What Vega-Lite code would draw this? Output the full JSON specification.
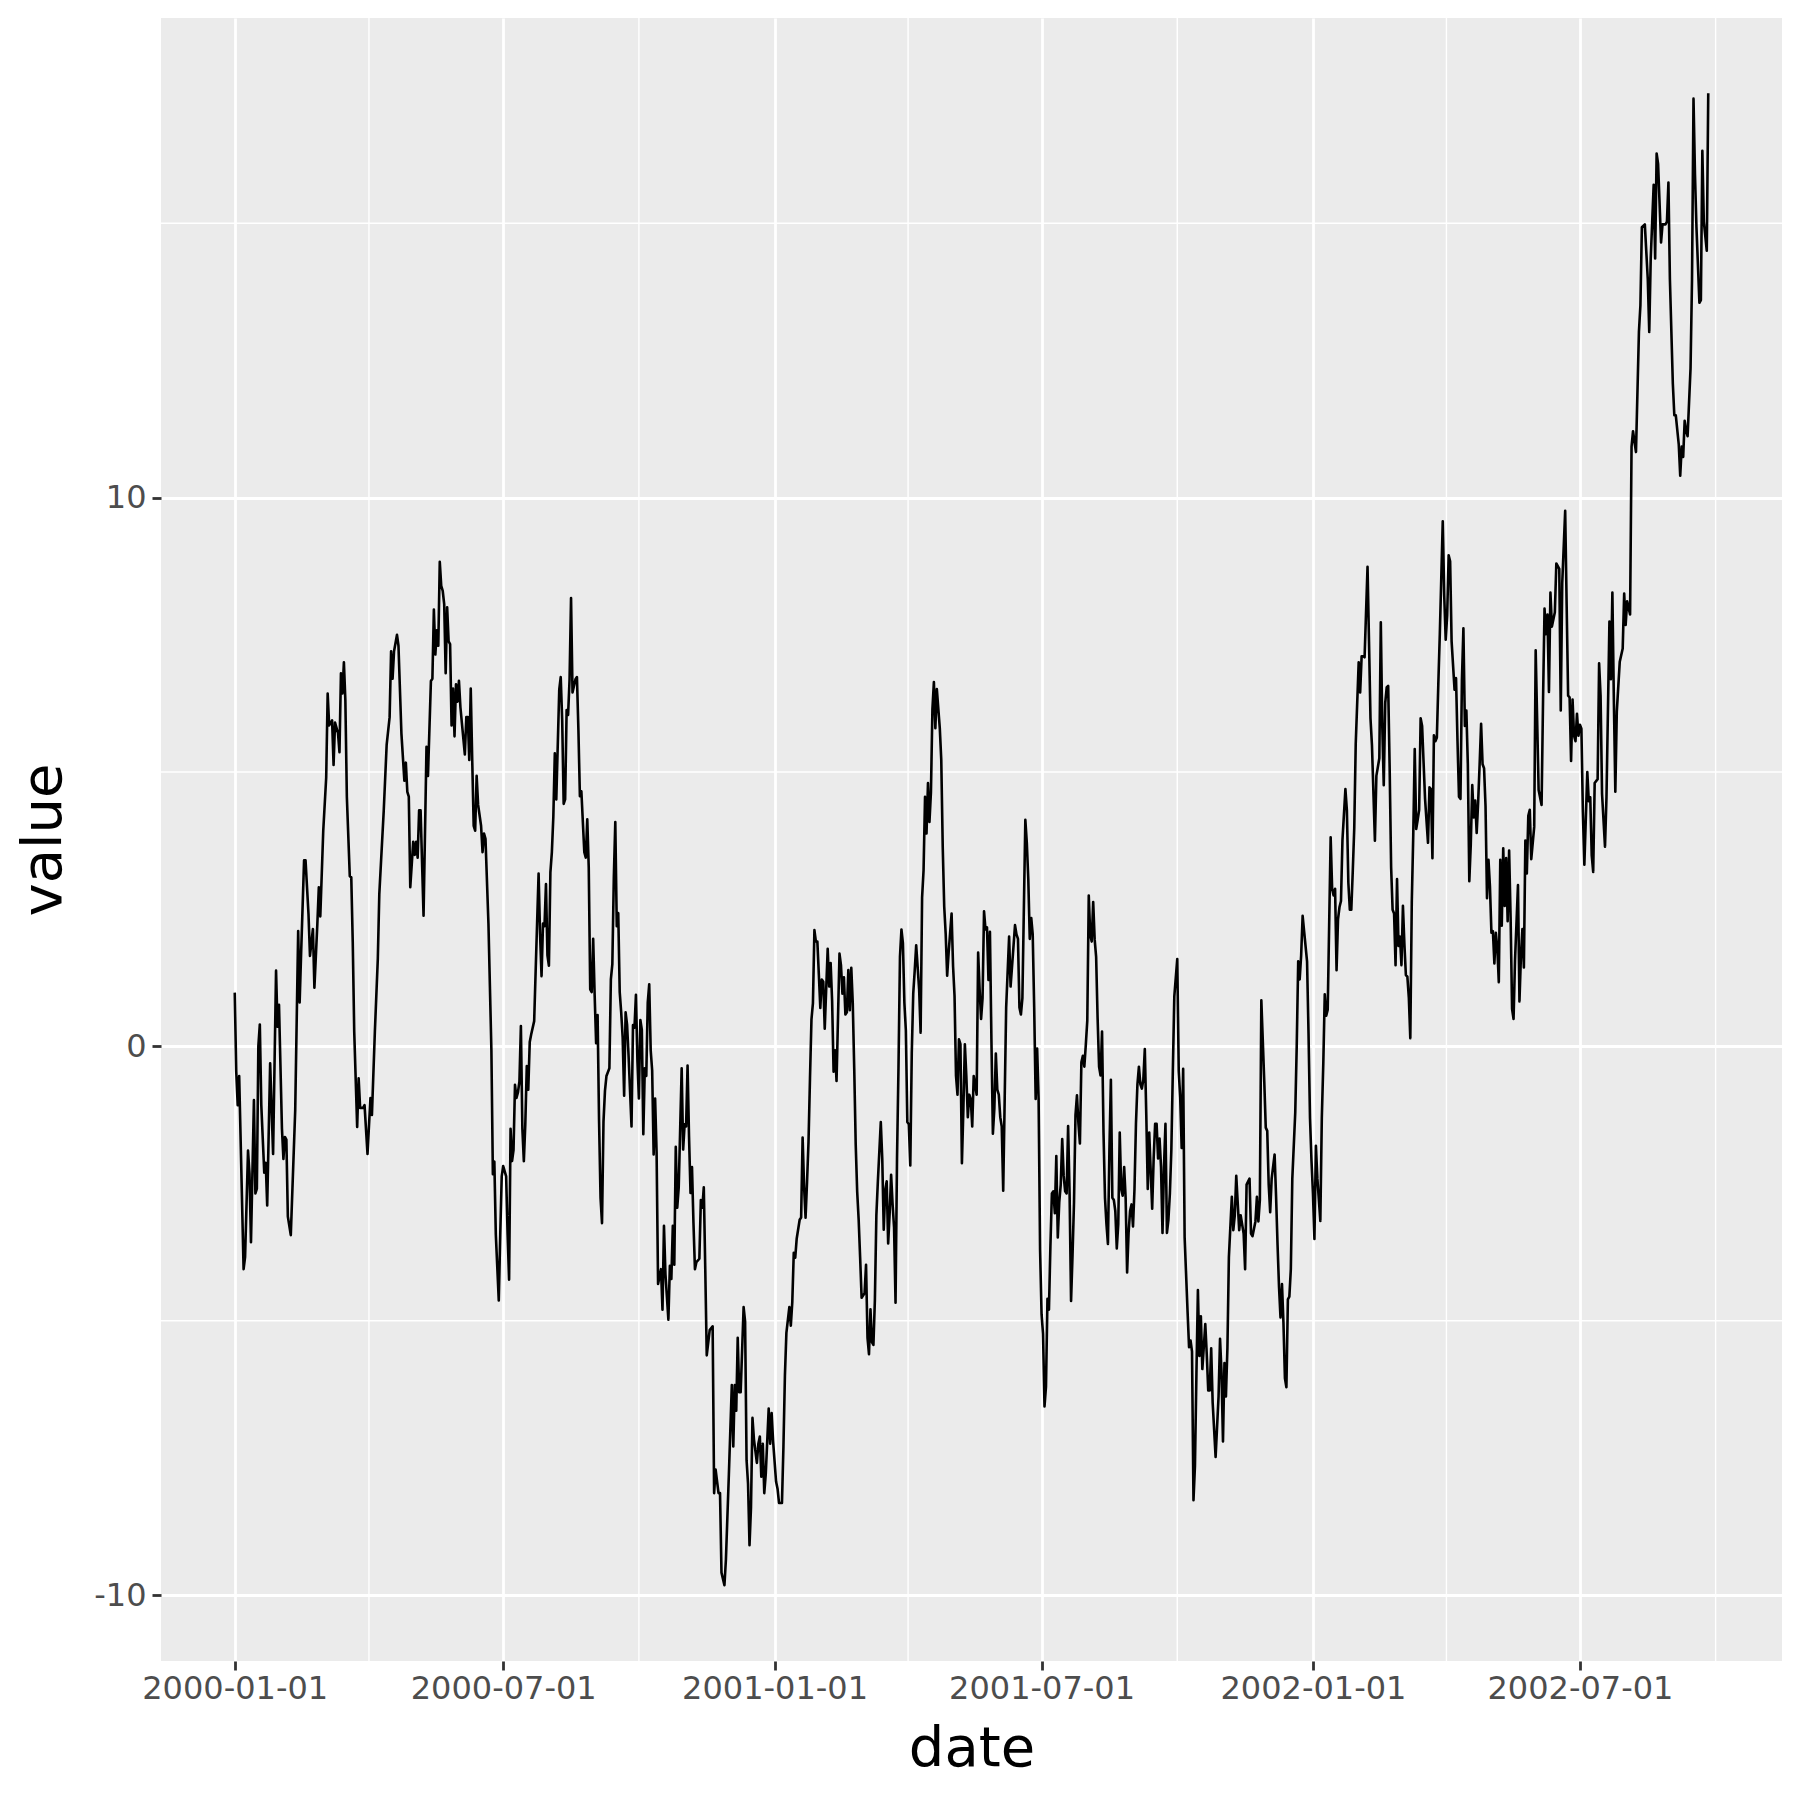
{
"$schema": "https://vega.github.io/schema/vega-lite/v6.json",
"width": 1621,
"height": 1643,
"autosize": {"type": "none"},
"padding": {"left": 161, "top": 18, "right": 18, "bottom": 139},
"background": "white",
"config": {
  "view": {"fill": "#EBEBEB", "stroke": null},
  "font": "DejaVu Sans",
  "axis": {"grid": true, "gridColor": "white", "gridWidth": 2.8, "domain": false, "tickColor": "#333333", "tickWidth": 2.8, "tickSize": 9, "labelFont": "DejaVu Sans", "labelFontSize": 32, "labelColor": "#4D4D4D", "labelPadding": 4, "labelLimit": 0, "titleFont": "DejaVu Sans", "titleFontSize": 56, "titleFontWeight": "normal", "titleColor": "black", "labelFlush": false, "labelOverlap": false}
},
"datasets": {
  "xminor": [{"date": "2000-04-01"}, {"date": "2000-10-01"}, {"date": "2001-04-01T12:00:00Z"}, {"date": "2001-10-01"}, {"date": "2002-04-01T12:00:00Z"}, {"date": "2002-10-01"}],
  "yminor": [{"value": -5}, {"value": 5}, {"value": 15}],
  "series": [
{"date":"2000-01-01","value":0.98},{"date":"2000-01-02","value":-0.45},{"date":"2000-01-03","value":-1.07},{"date":"2000-01-04","value":-0.54},{"date":"2000-01-07","value":-4.06},{"date":"2000-01-08","value":-3.84},{"date":"2000-01-10","value":-1.9},{"date":"2000-01-11","value":-2.32},{"date":"2000-01-12","value":-3.57},{"date":"2000-01-14","value":-0.98},{"date":"2000-01-15","value":-2.68},{"date":"2000-01-16","value":-2.59},{"date":"2000-01-17","value":0.0},{"date":"2000-01-18","value":0.4},{"date":"2000-01-19","value":-1.07},{"date":"2000-01-21","value":-2.3},{"date":"2000-01-22","value":-2.12},{"date":"2000-01-23","value":-2.9},{"date":"2000-01-25","value":-0.31},{"date":"2000-01-27","value":-1.96},{"date":"2000-01-29","value":1.38},{"date":"2000-01-30","value":0.36},{"date":"2000-01-31","value":0.76},
{"date":"2000-02-02","value":-1.5},{"date":"2000-02-03","value":-2.05},{"date":"2000-02-04","value":-1.65},{"date":"2000-02-05","value":-1.7},{"date":"2000-02-06","value":-3.1},{"date":"2000-02-08","value":-3.44},{"date":"2000-02-11","value":-1.16},{"date":"2000-02-13","value":2.1},{"date":"2000-02-14","value":0.8},{"date":"2000-02-15","value":1.7},{"date":"2000-02-17","value":3.39},{"date":"2000-02-18","value":3.39},{"date":"2000-02-20","value":2.41},{"date":"2000-02-21","value":1.65},{"date":"2000-02-23","value":2.14},{"date":"2000-02-24","value":1.07},{"date":"2000-02-26","value":2.23},{"date":"2000-02-27","value":2.9},{"date":"2000-02-28","value":2.37},
{"date":"2000-03-01","value":3.93},{"date":"2000-03-03","value":4.9},{"date":"2000-03-04","value":6.43},{"date":"2000-03-05","value":5.85},{"date":"2000-03-07","value":5.94},{"date":"2000-03-08","value":5.13},{"date":"2000-03-09","value":5.9},{"date":"2000-03-11","value":5.71},{"date":"2000-03-12","value":5.36},{"date":"2000-03-13","value":6.8},{"date":"2000-03-14","value":6.43},{"date":"2000-03-15","value":7.0},{"date":"2000-03-16","value":6.3},{"date":"2000-03-17","value":4.55},{"date":"2000-03-19","value":3.1},{"date":"2000-03-20","value":3.08},{"date":"2000-03-21","value":1.9},{"date":"2000-03-22","value":0.27},{"date":"2000-03-24","value":-1.47},{"date":"2000-03-25","value":-0.58},{"date":"2000-03-26","value":-1.12},{"date":"2000-03-28","value":-1.12},{"date":"2000-03-29","value":-1.07},{"date":"2000-03-31","value":-1.96},
{"date":"2000-04-02","value":-0.94},{"date":"2000-04-03","value":-1.25},{"date":"2000-04-05","value":0.27},{"date":"2000-04-07","value":1.6},{"date":"2000-04-08","value":2.77},{"date":"2000-04-11","value":4.29},{"date":"2000-04-13","value":5.5},{"date":"2000-04-15","value":6.0},{"date":"2000-04-16","value":7.2},{"date":"2000-04-17","value":6.7},{"date":"2000-04-18","value":7.2},{"date":"2000-04-20","value":7.5},{"date":"2000-04-21","value":7.3},{"date":"2000-04-23","value":5.7},{"date":"2000-04-25","value":4.84},{"date":"2000-04-26","value":5.17},{"date":"2000-04-27","value":4.64},{"date":"2000-04-28","value":4.55},{"date":"2000-04-29","value":2.9},
{"date":"2000-05-01","value":3.73},{"date":"2000-05-02","value":3.49},{"date":"2000-05-03","value":3.73},{"date":"2000-05-04","value":3.44},{"date":"2000-05-05","value":4.3},{"date":"2000-05-06","value":4.3},{"date":"2000-05-08","value":2.38},{"date":"2000-05-10","value":5.46},{"date":"2000-05-11","value":4.93},{"date":"2000-05-13","value":6.66},{"date":"2000-05-14","value":6.7},{"date":"2000-05-15","value":7.96},{"date":"2000-05-16","value":7.14},{"date":"2000-05-17","value":7.58},{"date":"2000-05-18","value":7.3},{"date":"2000-05-19","value":8.83},{"date":"2000-05-20","value":8.39},{"date":"2000-05-21","value":8.3},{"date":"2000-05-22","value":8.06},{"date":"2000-05-23","value":6.8},{"date":"2000-05-24","value":8.0},{"date":"2000-05-25","value":7.38},{"date":"2000-05-26","value":7.33},{"date":"2000-05-27","value":5.85},{"date":"2000-05-28","value":6.52},{"date":"2000-05-29","value":5.65},{"date":"2000-05-30","value":6.6},{"date":"2000-05-31","value":6.28},
{"date":"2000-06-01","value":6.66},{"date":"2000-06-02","value":6.18},{"date":"2000-06-03","value":5.89},{"date":"2000-06-05","value":5.32},{"date":"2000-06-06","value":6.0},{"date":"2000-06-07","value":6.0},{"date":"2000-06-08","value":5.22},{"date":"2000-06-09","value":6.52},{"date":"2000-06-10","value":5.22},{"date":"2000-06-11","value":4.02},{"date":"2000-06-12","value":3.93},{"date":"2000-06-13","value":4.93},{"date":"2000-06-14","value":4.4},{"date":"2000-06-16","value":4.02},{"date":"2000-06-17","value":3.54},{"date":"2000-06-18","value":3.88},{"date":"2000-06-19","value":3.78},{"date":"2000-06-21","value":2.24},{"date":"2000-06-23","value":-0.07},{"date":"2000-06-24","value":-2.33},{"date":"2000-06-25","value":-2.1},{"date":"2000-06-26","value":-3.43},{"date":"2000-06-28","value":-4.63},{"date":"2000-06-29","value":-3.43},{"date":"2000-06-30","value":-2.37},
{"date":"2000-07-01","value":-2.18},{"date":"2000-07-03","value":-2.37},{"date":"2000-07-04","value":-3.43},{"date":"2000-07-05","value":-4.25},{"date":"2000-07-06","value":-1.5},{"date":"2000-07-07","value":-2.09},{"date":"2000-07-08","value":-1.89},{"date":"2000-07-09","value":-0.7},{"date":"2000-07-10","value":-0.94},{"date":"2000-07-11","value":-0.84},{"date":"2000-07-12","value":-0.64},{"date":"2000-07-13","value":0.37},{"date":"2000-07-14","value":-1.5},{"date":"2000-07-15","value":-2.09},{"date":"2000-07-16","value":-1.41},{"date":"2000-07-17","value":-0.36},{"date":"2000-07-18","value":-0.79},{"date":"2000-07-19","value":0.08},{"date":"2000-07-20","value":0.22},{"date":"2000-07-22","value":0.46},{"date":"2000-07-23","value":1.37},{"date":"2000-07-25","value":3.15},{"date":"2000-07-26","value":2.05},{"date":"2000-07-27","value":1.28},{"date":"2000-07-28","value":2.24},{"date":"2000-07-29","value":2.19},{"date":"2000-07-30","value":2.96},{"date":"2000-07-31","value":1.66},
{"date":"2000-08-01","value":1.47},{"date":"2000-08-02","value":3.17},{"date":"2000-08-03","value":3.54},{"date":"2000-08-04","value":4.19},{"date":"2000-08-05","value":5.34},{"date":"2000-08-06","value":4.5},{"date":"2000-08-08","value":6.5},{"date":"2000-08-09","value":6.73},{"date":"2000-08-10","value":5.94},{"date":"2000-08-11","value":4.42},{"date":"2000-08-12","value":4.5},{"date":"2000-08-13","value":6.13},{"date":"2000-08-14","value":6.04},{"date":"2000-08-15","value":6.69},{"date":"2000-08-16","value":8.17},{"date":"2000-08-17","value":6.45},{"date":"2000-08-19","value":6.69},{"date":"2000-08-20","value":6.73},{"date":"2000-08-21","value":5.76},{"date":"2000-08-22","value":4.56},{"date":"2000-08-23","value":4.65},{"date":"2000-08-25","value":3.54},{"date":"2000-08-26","value":3.44},{"date":"2000-08-27","value":4.14},{"date":"2000-08-28","value":3.26},{"date":"2000-08-29","value":1.04},{"date":"2000-08-30","value":0.99},{"date":"2000-08-31","value":1.96},
{"date":"2000-09-01","value":0.94},{"date":"2000-09-02","value":0.06},{"date":"2000-09-03","value":0.57},{"date":"2000-09-04","value":-1.37},{"date":"2000-09-05","value":-2.76},{"date":"2000-09-06","value":-3.22},{"date":"2000-09-07","value":-1.37},{"date":"2000-09-08","value":-0.81},{"date":"2000-09-09","value":-0.54},{"date":"2000-09-11","value":-0.4},{"date":"2000-09-12","value":1.22},{"date":"2000-09-13","value":1.5},{"date":"2000-09-14","value":3.07},{"date":"2000-09-15","value":4.09},{"date":"2000-09-16","value":2.19},{"date":"2000-09-17","value":2.43},{"date":"2000-09-18","value":0.99},{"date":"2000-09-19","value":0.62},{"date":"2000-09-20","value":0.16},{"date":"2000-09-21","value":-0.9},{"date":"2000-09-22","value":0.62},{"date":"2000-09-23","value":0.39},{"date":"2000-09-24","value":-0.17},{"date":"2000-09-26","value":-1.46},{"date":"2000-09-27","value":0.39},{"date":"2000-09-28","value":0.34},{"date":"2000-09-29","value":0.94},{"date":"2000-09-30","value":-0.26},
{"date":"2000-10-01","value":-0.95},{"date":"2000-10-02","value":0.48},{"date":"2000-10-03","value":0.3},{"date":"2000-10-04","value":-1.6},{"date":"2000-10-05","value":-0.4},{"date":"2000-10-06","value":-0.54},{"date":"2000-10-07","value":0.8},{"date":"2000-10-08","value":1.13},{"date":"2000-10-09","value":-0.07},{"date":"2000-10-10","value":-0.44},{"date":"2000-10-11","value":-1.97},{"date":"2000-10-12","value":-0.95},{"date":"2000-10-13","value":-1.93},{"date":"2000-10-14","value":-4.33},{"date":"2000-10-16","value":-4.06},{"date":"2000-10-17","value":-4.8},{"date":"2000-10-18","value":-3.27},{"date":"2000-10-19","value":-4.15},{"date":"2000-10-21","value":-4.98},{"date":"2000-10-22","value":-4.0},{"date":"2000-10-23","value":-4.24},{"date":"2000-10-24","value":-3.27},{"date":"2000-10-25","value":-3.98},{"date":"2000-10-26","value":-1.83},{"date":"2000-10-27","value":-2.94},{"date":"2000-10-28","value":-2.57},{"date":"2000-10-30","value":-0.4},{"date":"2000-10-31","value":-1.88},
{"date":"2000-11-01","value":-1.42},{"date":"2000-11-02","value":-1.46},{"date":"2000-11-03","value":-0.35},{"date":"2000-11-04","value":-1.65},{"date":"2000-11-05","value":-2.67},{"date":"2000-11-06","value":-2.2},{"date":"2000-11-07","value":-3.22},{"date":"2000-11-08","value":-4.06},{"date":"2000-11-09","value":-3.93},{"date":"2000-11-11","value":-3.87},{"date":"2000-11-12","value":-2.8},{"date":"2000-11-13","value":-2.94},{"date":"2000-11-14","value":-2.57},{"date":"2000-11-15","value":-4.06},{"date":"2000-11-16","value":-5.63},{"date":"2000-11-18","value":-5.17},{"date":"2000-11-20","value":-5.1},{"date":"2000-11-21","value":-8.14},{"date":"2000-11-22","value":-7.71},{"date":"2000-11-24","value":-8.14},{"date":"2000-11-25","value":-8.14},{"date":"2000-11-26","value":-9.59},{"date":"2000-11-28","value":-9.82},{"date":"2000-11-29","value":-9.35},
{"date":"2000-12-01","value":-7.8},{"date":"2000-12-03","value":-6.17},{"date":"2000-12-04","value":-7.29},{"date":"2000-12-05","value":-6.17},{"date":"2000-12-06","value":-6.64},{"date":"2000-12-07","value":-5.31},{"date":"2000-12-08","value":-6.3},{"date":"2000-12-09","value":-6.3},{"date":"2000-12-11","value":-4.75},{"date":"2000-12-12","value":-5.01},{"date":"2000-12-13","value":-7.54},{"date":"2000-12-14","value":-7.97},{"date":"2000-12-15","value":-9.09},{"date":"2000-12-16","value":-8.4},{"date":"2000-12-17","value":-6.77},{"date":"2000-12-18","value":-7.16},{"date":"2000-12-20","value":-7.59},{"date":"2000-12-21","value":-7.24},{"date":"2000-12-22","value":-7.11},{"date":"2000-12-23","value":-7.84},{"date":"2000-12-24","value":-7.24},{"date":"2000-12-25","value":-8.14},{"date":"2000-12-26","value":-7.8},{"date":"2000-12-28","value":-6.6},{"date":"2000-12-29","value":-7.24},{"date":"2000-12-30","value":-6.68},{"date":"2000-12-31","value":-7.2},
{"date":"2001-01-02","value":-7.93},{"date":"2001-01-03","value":-8.06},{"date":"2001-01-04","value":-8.32},{"date":"2001-01-06","value":-8.32},{"date":"2001-01-07","value":-7.29},{"date":"2001-01-08","value":-6.0},{"date":"2001-01-09","value":-5.22},{"date":"2001-01-11","value":-4.75},{"date":"2001-01-12","value":-5.09},{"date":"2001-01-13","value":-4.66},{"date":"2001-01-14","value":-3.76},{"date":"2001-01-15","value":-3.85},{"date":"2001-01-16","value":-3.5},{"date":"2001-01-18","value":-3.16},{"date":"2001-01-19","value":-3.12},{"date":"2001-01-20","value":-1.66},{"date":"2001-01-21","value":-2.56},{"date":"2001-01-22","value":-3.12},{"date":"2001-01-23","value":-2.47},{"date":"2001-01-24","value":-1.74},{"date":"2001-01-25","value":-0.58},{"date":"2001-01-26","value":0.49},{"date":"2001-01-27","value":0.79},{"date":"2001-01-28","value":2.12},{"date":"2001-01-29","value":1.91},{"date":"2001-01-30","value":1.91},{"date":"2001-01-31","value":1.31},
{"date":"2001-02-01","value":0.7},{"date":"2001-02-02","value":1.22},{"date":"2001-02-03","value":1.18},{"date":"2001-02-04","value":0.32},{"date":"2001-02-06","value":1.78},{"date":"2001-02-07","value":1.09},{"date":"2001-02-08","value":1.52},{"date":"2001-02-09","value":0.83},{"date":"2001-02-10","value":-0.46},{"date":"2001-02-11","value":-0.07},{"date":"2001-02-12","value":-0.63},{"date":"2001-02-14","value":1.69},{"date":"2001-02-15","value":1.48},{"date":"2001-02-16","value":0.96},{"date":"2001-02-17","value":1.26},{"date":"2001-02-18","value":0.58},{"date":"2001-02-19","value":0.62},{"date":"2001-02-20","value":1.39},{"date":"2001-02-21","value":0.66},{"date":"2001-02-22","value":1.43},{"date":"2001-02-23","value":0.79},{"date":"2001-02-24","value":-0.41},{"date":"2001-02-25","value":-1.79},{"date":"2001-02-26","value":-2.65},{"date":"2001-02-27","value":-3.16},{"date":"2001-02-28","value":-3.85},
{"date":"2001-03-01","value":-4.58},{"date":"2001-03-03","value":-4.5},{"date":"2001-03-04","value":-3.98},{"date":"2001-03-05","value":-5.31},{"date":"2001-03-06","value":-5.61},{"date":"2001-03-07","value":-4.79},{"date":"2001-03-08","value":-5.39},{"date":"2001-03-09","value":-5.44},{"date":"2001-03-10","value":-4.62},{"date":"2001-03-11","value":-3.08},{"date":"2001-03-12","value":-2.47},{"date":"2001-03-14","value":-1.38},{"date":"2001-03-15","value":-2.05},{"date":"2001-03-16","value":-3.34},{"date":"2001-03-17","value":-2.63},{"date":"2001-03-18","value":-2.46},{"date":"2001-03-19","value":-3.59},{"date":"2001-03-20","value":-3.05},{"date":"2001-03-21","value":-2.34},{"date":"2001-03-22","value":-2.88},{"date":"2001-03-23","value":-3.3},{"date":"2001-03-24","value":-4.67},{"date":"2001-03-25","value":-2.05},{"date":"2001-03-26","value":-0.38},{"date":"2001-03-27","value":1.63},{"date":"2001-03-28","value":2.13},{"date":"2001-03-29","value":1.88},{"date":"2001-03-30","value":0.79},{"date":"2001-03-31","value":0.29},
{"date":"2001-04-01","value":-1.38},{"date":"2001-04-02","value":-1.42},{"date":"2001-04-03","value":-2.17},{"date":"2001-04-04","value":-0.13},{"date":"2001-04-05","value":0.96},{"date":"2001-04-06","value":1.38},{"date":"2001-04-07","value":1.84},{"date":"2001-04-09","value":1.04},{"date":"2001-04-10","value":0.25},{"date":"2001-04-11","value":2.71},{"date":"2001-04-12","value":3.21},{"date":"2001-04-13","value":4.55},{"date":"2001-04-14","value":3.88},{"date":"2001-04-15","value":4.8},{"date":"2001-04-16","value":4.09},{"date":"2001-04-17","value":4.63},{"date":"2001-04-18","value":6.14},{"date":"2001-04-19","value":6.64},{"date":"2001-04-20","value":5.8},{"date":"2001-04-21","value":6.51},{"date":"2001-04-23","value":5.8},{"date":"2001-04-24","value":5.22},{"date":"2001-04-25","value":3.63},{"date":"2001-04-26","value":2.55},{"date":"2001-04-27","value":2.05},{"date":"2001-04-28","value":1.29},{"date":"2001-04-29","value":1.71},
{"date":"2001-05-01","value":2.42},{"date":"2001-05-02","value":1.46},{"date":"2001-05-03","value":0.92},{"date":"2001-05-04","value":-0.54},{"date":"2001-05-05","value":-0.88},{"date":"2001-05-06","value":0.13},{"date":"2001-05-07","value":0.04},{"date":"2001-05-08","value":-2.13},{"date":"2001-05-09","value":-1.13},{"date":"2001-05-10","value":0.04},{"date":"2001-05-11","value":-0.54},{"date":"2001-05-12","value":-1.29},{"date":"2001-05-13","value":-0.88},{"date":"2001-05-14","value":-0.96},{"date":"2001-05-15","value":-1.46},{"date":"2001-05-16","value":-0.54},{"date":"2001-05-18","value":-0.88},{"date":"2001-05-19","value":1.71},{"date":"2001-05-20","value":1.04},{"date":"2001-05-21","value":0.5},{"date":"2001-05-22","value":0.88},{"date":"2001-05-23","value":2.46},{"date":"2001-05-24","value":2.13},{"date":"2001-05-25","value":2.17},{"date":"2001-05-26","value":1.21},{"date":"2001-05-27","value":2.09},{"date":"2001-05-28","value":0.13},{"date":"2001-05-29","value":-1.59},{"date":"2001-05-30","value":-1.13},{"date":"2001-05-31","value":-0.13},
{"date":"2001-06-01","value":-0.79},{"date":"2001-06-02","value":-0.88},{"date":"2001-06-03","value":-1.29},{"date":"2001-06-04","value":-1.46},{"date":"2001-06-05","value":-2.63},{"date":"2001-06-06","value":-0.96},{"date":"2001-06-07","value":0.71},{"date":"2001-06-09","value":2.0},{"date":"2001-06-10","value":1.09},{"date":"2001-06-11","value":1.46},{"date":"2001-06-13","value":2.21},{"date":"2001-06-14","value":2.04},{"date":"2001-06-15","value":1.96},{"date":"2001-06-16","value":0.71},{"date":"2001-06-17","value":0.58},{"date":"2001-06-18","value":0.88},{"date":"2001-06-20","value":4.13},{"date":"2001-06-21","value":3.71},{"date":"2001-06-22","value":3.05},{"date":"2001-06-23","value":1.96},{"date":"2001-06-24","value":2.34},{"date":"2001-06-25","value":2.04},{"date":"2001-06-26","value":0.71},{"date":"2001-06-27","value":-0.96},{"date":"2001-06-28","value":-0.04},{"date":"2001-06-29","value":-0.96},{"date":"2001-06-30","value":-3.71},
{"date":"2001-07-01","value":-4.88},{"date":"2001-07-02","value":-5.24},{"date":"2001-07-03","value":-6.56},{"date":"2001-07-04","value":-6.2},{"date":"2001-07-05","value":-4.6},{"date":"2001-07-06","value":-4.8},{"date":"2001-07-07","value":-3.64},{"date":"2001-07-08","value":-2.68},{"date":"2001-07-09","value":-2.64},{"date":"2001-07-10","value":-3.04},{"date":"2001-07-11","value":-2.0},{"date":"2001-07-12","value":-3.48},{"date":"2001-07-13","value":-2.84},{"date":"2001-07-14","value":-2.52},{"date":"2001-07-15","value":-1.69},{"date":"2001-07-16","value":-2.36},{"date":"2001-07-17","value":-2.64},{"date":"2001-07-18","value":-2.68},{"date":"2001-07-19","value":-1.45},{"date":"2001-07-20","value":-2.68},{"date":"2001-07-21","value":-4.64},{"date":"2001-07-22","value":-3.8},{"date":"2001-07-23","value":-2.84},{"date":"2001-07-24","value":-1.25},{"date":"2001-07-25","value":-0.89},{"date":"2001-07-26","value":-1.41},{"date":"2001-07-27","value":-1.77},{"date":"2001-07-28","value":-0.29},{"date":"2001-07-29","value":-0.17},{"date":"2001-07-30","value":-0.37},{"date":"2001-07-31","value":0.03},
{"date":"2001-08-01","value":0.47},{"date":"2001-08-02","value":2.75},{"date":"2001-08-03","value":2.03},{"date":"2001-08-04","value":1.91},{"date":"2001-08-05","value":2.63},{"date":"2001-08-06","value":1.95},{"date":"2001-08-07","value":1.63},{"date":"2001-08-08","value":0.51},{"date":"2001-08-09","value":-0.37},{"date":"2001-08-10","value":-0.53},{"date":"2001-08-11","value":0.27},{"date":"2001-08-12","value":-1.57},{"date":"2001-08-13","value":-2.76},{"date":"2001-08-14","value":-3.24},{"date":"2001-08-15","value":-3.6},{"date":"2001-08-16","value":-1.89},{"date":"2001-08-17","value":-0.61},{"date":"2001-08-18","value":-2.76},{"date":"2001-08-19","value":-2.8},{"date":"2001-08-20","value":-3.0},{"date":"2001-08-21","value":-3.68},{"date":"2001-08-22","value":-3.24},{"date":"2001-08-23","value":-1.57},{"date":"2001-08-24","value":-2.6},{"date":"2001-08-25","value":-2.72},{"date":"2001-08-26","value":-2.2},{"date":"2001-08-27","value":-2.76},{"date":"2001-08-28","value":-4.12},{"date":"2001-08-29","value":-3.4},{"date":"2001-08-30","value":-3.0},{"date":"2001-08-31","value":-2.88},
{"date":"2001-09-01","value":-3.28},{"date":"2001-09-02","value":-2.6},{"date":"2001-09-03","value":-1.41},{"date":"2001-09-04","value":-0.69},{"date":"2001-09-05","value":-0.37},{"date":"2001-09-06","value":-0.69},{"date":"2001-09-07","value":-0.77},{"date":"2001-09-08","value":-0.61},{"date":"2001-09-09","value":-0.05},{"date":"2001-09-10","value":-1.25},{"date":"2001-09-11","value":-2.6},{"date":"2001-09-12","value":-1.57},{"date":"2001-09-13","value":-2.28},{"date":"2001-09-14","value":-2.96},{"date":"2001-09-15","value":-2.04},{"date":"2001-09-16","value":-1.41},{"date":"2001-09-17","value":-1.41},{"date":"2001-09-18","value":-2.04},{"date":"2001-09-19","value":-1.68},{"date":"2001-09-20","value":-2.2},{"date":"2001-09-21","value":-3.4},{"date":"2001-09-22","value":-2.2},{"date":"2001-09-23","value":-1.41},{"date":"2001-09-24","value":-3.4},{"date":"2001-09-25","value":-3.16},{"date":"2001-09-26","value":-2.68},{"date":"2001-09-27","value":-1.88},{"date":"2001-09-28","value":-0.45},{"date":"2001-09-29","value":0.91},
{"date":"2001-10-01","value":1.59},{"date":"2001-10-02","value":-0.45},{"date":"2001-10-03","value":-0.93},{"date":"2001-10-04","value":-1.85},{"date":"2001-10-05","value":-0.41},{"date":"2001-10-06","value":-3.48},{"date":"2001-10-08","value":-4.84},{"date":"2001-10-09","value":-5.48},{"date":"2001-10-10","value":-5.36},{"date":"2001-10-11","value":-5.56},{"date":"2001-10-12","value":-8.27},{"date":"2001-10-13","value":-7.64},{"date":"2001-10-14","value":-5.96},{"date":"2001-10-15","value":-4.44},{"date":"2001-10-16","value":-5.64},{"date":"2001-10-17","value":-4.92},{"date":"2001-10-18","value":-5.88},{"date":"2001-10-20","value":-5.06},{"date":"2001-10-21","value":-5.61},{"date":"2001-10-22","value":-6.27},{"date":"2001-10-23","value":-6.27},{"date":"2001-10-24","value":-5.5},{"date":"2001-10-25","value":-6.49},{"date":"2001-10-27","value":-7.48},{"date":"2001-10-29","value":-6.38},{"date":"2001-10-30","value":-5.33},{"date":"2001-10-31","value":-5.94},
{"date":"2001-11-01","value":-7.2},{"date":"2001-11-02","value":-5.77},{"date":"2001-11-03","value":-6.38},{"date":"2001-11-04","value":-5.5},{"date":"2001-11-05","value":-3.84},{"date":"2001-11-07","value":-2.74},{"date":"2001-11-08","value":-3.35},{"date":"2001-11-09","value":-3.08},{"date":"2001-11-10","value":-2.36},{"date":"2001-11-12","value":-3.35},{"date":"2001-11-13","value":-3.08},{"date":"2001-11-15","value":-3.41},{"date":"2001-11-16","value":-4.06},{"date":"2001-11-17","value":-2.52},{"date":"2001-11-19","value":-2.41},{"date":"2001-11-20","value":-3.41},{"date":"2001-11-21","value":-3.46},{"date":"2001-11-23","value":-3.19},{"date":"2001-11-24","value":-2.74},{"date":"2001-11-25","value":-3.19},{"date":"2001-11-26","value":-2.8},{"date":"2001-11-27","value":0.84},{"date":"2001-11-29","value":-0.65},{"date":"2001-11-30","value":-1.48},
{"date":"2001-12-01","value":-1.54},{"date":"2001-12-02","value":-2.52},{"date":"2001-12-03","value":-3.02},{"date":"2001-12-04","value":-2.41},{"date":"2001-12-06","value":-1.97},{"date":"2001-12-07","value":-2.74},{"date":"2001-12-08","value":-3.62},{"date":"2001-12-09","value":-4.39},{"date":"2001-12-10","value":-4.94},{"date":"2001-12-11","value":-4.33},{"date":"2001-12-12","value":-5.04},{"date":"2001-12-13","value":-6.05},{"date":"2001-12-14","value":-6.21},{"date":"2001-12-15","value":-4.61},{"date":"2001-12-16","value":-4.56},{"date":"2001-12-17","value":-4.06},{"date":"2001-12-18","value":-2.41},{"date":"2001-12-20","value":-1.2},{"date":"2001-12-21","value":0.01},{"date":"2001-12-22","value":1.55},{"date":"2001-12-23","value":1.22},{"date":"2001-12-24","value":1.66},{"date":"2001-12-25","value":2.38},{"date":"2001-12-26","value":2.1},{"date":"2001-12-28","value":1.55},{"date":"2001-12-29","value":0.23},{"date":"2001-12-30","value":-1.31},{"date":"2001-12-31","value":-2.08},
{"date":"2002-01-01","value":-2.68},{"date":"2002-01-02","value":-3.51},{"date":"2002-01-03","value":-1.81},{"date":"2002-01-04","value":-2.41},{"date":"2002-01-06","value":-3.18},{"date":"2002-01-07","value":-1.31},{"date":"2002-01-08","value":-0.32},{"date":"2002-01-09","value":0.95},{"date":"2002-01-10","value":0.56},{"date":"2002-01-11","value":0.67},{"date":"2002-01-13","value":3.81},{"date":"2002-01-14","value":2.87},{"date":"2002-01-15","value":2.75},{"date":"2002-01-16","value":2.87},{"date":"2002-01-17","value":1.39},{"date":"2002-01-18","value":2.32},{"date":"2002-01-19","value":2.54},{"date":"2002-01-20","value":2.65},{"date":"2002-01-21","value":3.76},{"date":"2002-01-23","value":4.69},{"date":"2002-01-24","value":4.3},{"date":"2002-01-25","value":2.98},{"date":"2002-01-26","value":2.49},{"date":"2002-01-27","value":2.49},{"date":"2002-01-28","value":3.2},{"date":"2002-01-29","value":3.98},{"date":"2002-01-30","value":5.52},
{"date":"2002-02-01","value":7.0},{"date":"2002-02-02","value":6.45},{"date":"2002-02-03","value":7.11},{"date":"2002-02-04","value":7.11},{"date":"2002-02-05","value":7.09},{"date":"2002-02-07","value":8.74},{"date":"2002-02-08","value":7.38},{"date":"2002-02-09","value":5.98},{"date":"2002-02-10","value":5.49},{"date":"2002-02-12","value":3.75},{"date":"2002-02-13","value":4.93},{"date":"2002-02-15","value":5.25},{"date":"2002-02-16","value":7.73},{"date":"2002-02-17","value":5.84},{"date":"2002-02-18","value":4.76},{"date":"2002-02-19","value":6.26},{"date":"2002-02-20","value":6.54},{"date":"2002-02-21","value":6.57},{"date":"2002-02-22","value":5.07},{"date":"2002-02-23","value":3.26},{"date":"2002-02-24","value":2.49},{"date":"2002-02-25","value":2.42},{"date":"2002-02-26","value":1.48},{"date":"2002-02-27","value":3.05},{"date":"2002-02-28","value":1.83},
{"date":"2002-03-01","value":2.0},{"date":"2002-03-02","value":1.48},{"date":"2002-03-03","value":2.56},{"date":"2002-03-04","value":1.86},{"date":"2002-03-05","value":1.3},{"date":"2002-03-06","value":1.27},{"date":"2002-03-07","value":0.89},{"date":"2002-03-08","value":0.15},{"date":"2002-03-09","value":2.62},{"date":"2002-03-10","value":3.85},{"date":"2002-03-11","value":5.42},{"date":"2002-03-12","value":3.96},{"date":"2002-03-13","value":4.13},{"date":"2002-03-14","value":4.31},{"date":"2002-03-15","value":5.98},{"date":"2002-03-16","value":5.84},{"date":"2002-03-18","value":4.51},{"date":"2002-03-20","value":3.71},{"date":"2002-03-21","value":4.72},{"date":"2002-03-22","value":4.69},{"date":"2002-03-23","value":3.43},{"date":"2002-03-24","value":5.67},{"date":"2002-03-25","value":5.56},{"date":"2002-03-26","value":5.63},{"date":"2002-03-27","value":6.61},{"date":"2002-03-28","value":7.51},{"date":"2002-03-30","value":9.57},{"date":"2002-03-31","value":8.21},
{"date":"2002-04-01","value":7.41},{"date":"2002-04-02","value":7.86},{"date":"2002-04-03","value":8.95},{"date":"2002-04-04","value":8.84},{"date":"2002-04-05","value":7.38},{"date":"2002-04-07","value":6.5},{"date":"2002-04-08","value":6.71},{"date":"2002-04-09","value":5.56},{"date":"2002-04-10","value":4.55},{"date":"2002-04-11","value":4.51},{"date":"2002-04-12","value":6.68},{"date":"2002-04-13","value":7.62},{"date":"2002-04-14","value":5.84},{"date":"2002-04-15","value":6.12},{"date":"2002-04-16","value":5.14},{"date":"2002-04-17","value":3.01},{"date":"2002-04-18","value":3.68},{"date":"2002-04-19","value":4.76},{"date":"2002-04-20","value":4.17},{"date":"2002-04-21","value":4.48},{"date":"2002-04-22","value":3.89},{"date":"2002-04-23","value":4.45},{"date":"2002-04-24","value":5.14},{"date":"2002-04-25","value":5.88},{"date":"2002-04-26","value":5.14},{"date":"2002-04-27","value":5.07},{"date":"2002-04-28","value":4.38},{"date":"2002-04-29","value":2.7},{"date":"2002-04-30","value":3.4},
{"date":"2002-05-01","value":2.91},{"date":"2002-05-02","value":2.07},{"date":"2002-05-03","value":2.1},{"date":"2002-05-04","value":1.51},{"date":"2002-05-05","value":2.07},{"date":"2002-05-06","value":1.79},{"date":"2002-05-07","value":1.17},{"date":"2002-05-08","value":3.4},{"date":"2002-05-09","value":2.2},{"date":"2002-05-10","value":3.61},{"date":"2002-05-11","value":2.56},{"date":"2002-05-12","value":3.43},{"date":"2002-05-13","value":2.28},{"date":"2002-05-14","value":3.57},{"date":"2002-05-15","value":2.35},{"date":"2002-05-16","value":0.68},{"date":"2002-05-17","value":0.5},{"date":"2002-05-18","value":1.58},{"date":"2002-05-20","value":2.94},{"date":"2002-05-21","value":0.82},{"date":"2002-05-22","value":1.65},{"date":"2002-05-23","value":2.14},{"date":"2002-05-24","value":1.44},{"date":"2002-05-25","value":3.75},{"date":"2002-05-26","value":3.15},{"date":"2002-05-27","value":4.2},{"date":"2002-05-28","value":4.31},{"date":"2002-05-29","value":3.41},{"date":"2002-05-31","value":4.0},
{"date":"2002-06-01","value":7.22},{"date":"2002-06-03","value":4.67},{"date":"2002-06-05","value":4.4},{"date":"2002-06-06","value":6.32},{"date":"2002-06-07","value":7.98},{"date":"2002-06-08","value":7.51},{"date":"2002-06-09","value":7.87},{"date":"2002-06-10","value":6.46},{"date":"2002-06-11","value":8.27},{"date":"2002-06-12","value":7.65},{"date":"2002-06-14","value":7.91},{"date":"2002-06-15","value":8.8},{"date":"2002-06-17","value":8.7},{"date":"2002-06-18","value":6.12},{"date":"2002-06-19","value":8.44},{"date":"2002-06-21","value":9.76},{"date":"2002-06-22","value":8.04},{"date":"2002-06-23","value":6.39},{"date":"2002-06-24","value":6.36},{"date":"2002-06-25","value":5.2},{"date":"2002-06-26","value":6.32},{"date":"2002-06-27","value":5.66},{"date":"2002-06-28","value":5.56},{"date":"2002-06-29","value":6.06},{"date":"2002-06-30","value":5.66},
{"date":"2002-07-01","value":5.86},{"date":"2002-07-02","value":5.79},{"date":"2002-07-03","value":4.27},{"date":"2002-07-04","value":3.31},{"date":"2002-07-06","value":5.0},{"date":"2002-07-07","value":4.47},{"date":"2002-07-08","value":4.54},{"date":"2002-07-09","value":3.48},{"date":"2002-07-10","value":3.18},{"date":"2002-07-11","value":4.8},{"date":"2002-07-13","value":4.87},{"date":"2002-07-14","value":6.98},{"date":"2002-07-15","value":6.39},{"date":"2002-07-16","value":4.6},{"date":"2002-07-18","value":3.64},{"date":"2002-07-19","value":4.54},{"date":"2002-07-21","value":7.74},{"date":"2002-07-22","value":6.69},{"date":"2002-07-23","value":8.27},{"date":"2002-07-24","value":6.32},{"date":"2002-07-25","value":4.64},{"date":"2002-07-26","value":6.1},{"date":"2002-07-28","value":7.01},{"date":"2002-07-30","value":7.25},{"date":"2002-07-31","value":8.25},
{"date":"2002-08-01","value":7.68},{"date":"2002-08-02","value":8.11},{"date":"2002-08-04","value":7.87},{"date":"2002-08-05","value":10.93},{"date":"2002-08-06","value":11.21},{"date":"2002-08-08","value":10.83},{"date":"2002-08-10","value":13.02},{"date":"2002-08-11","value":13.5},{"date":"2002-08-12","value":14.93},{"date":"2002-08-14","value":14.98},{"date":"2002-08-16","value":13.98},{"date":"2002-08-17","value":13.02},{"date":"2002-08-18","value":14.36},{"date":"2002-08-20","value":15.7},{"date":"2002-08-21","value":14.36},{"date":"2002-08-22","value":16.27},{"date":"2002-08-23","value":16.08},{"date":"2002-08-25","value":14.65},{"date":"2002-08-26","value":14.98},{"date":"2002-08-28","value":14.98},{"date":"2002-08-29","value":15.03},{"date":"2002-08-30","value":15.74},{"date":"2002-08-31","value":13.98},
{"date":"2002-09-02","value":12.07},{"date":"2002-09-03","value":11.5},{"date":"2002-09-04","value":11.5},{"date":"2002-09-06","value":10.97},{"date":"2002-09-07","value":10.4},{"date":"2002-09-08","value":10.93},{"date":"2002-09-09","value":10.74},{"date":"2002-09-10","value":11.4},{"date":"2002-09-11","value":11.21},{"date":"2002-09-12","value":11.12},{"date":"2002-09-14","value":12.36},{"date":"2002-09-15","value":13.98},{"date":"2002-09-16","value":17.27},{"date":"2002-09-17","value":15.89},{"date":"2002-09-18","value":14.93},{"date":"2002-09-20","value":13.55},{"date":"2002-09-21","value":13.6},{"date":"2002-09-22","value":16.32},{"date":"2002-09-23","value":15.03},{"date":"2002-09-25","value":14.5},{"date":"2002-09-26","value":17.37}
  ]
},
"layer": [
  {
    "data": {"name": "xminor"},
    "mark": {"type": "rule", "color": "white", "strokeWidth": 1.4},
    "encoding": {"x": {"field": "date", "type": "temporal"}}
  },
  {
    "data": {"name": "yminor"},
    "mark": {"type": "rule", "color": "white", "strokeWidth": 1.4},
    "encoding": {"y": {"field": "value", "type": "quantitative"}}
  },
  {
    "data": {"name": "series"},
    "mark": {"type": "line", "color": "black", "strokeWidth": 2.6, "strokeJoin": "round"},
    "encoding": {
      "x": {
        "field": "date", "type": "temporal", "title": "date",
        "scale": {"type": "utc", "domain": [{"year": 1999, "month": 11, "date": 12, "utc": true}, {"year": 2002, "month": 11, "date": 15, "utc": true}]},
        "axis": {
          "values": [{"year": 2000, "month": 1, "date": 1, "utc": true}, {"year": 2000, "month": 7, "date": 1, "utc": true}, {"year": 2001, "month": 1, "date": 1, "utc": true}, {"year": 2001, "month": 7, "date": 1, "utc": true}, {"year": 2002, "month": 1, "date": 1, "utc": true}, {"year": 2002, "month": 7, "date": 1, "utc": true}],
          "format": "%Y-%m-%d",
          "labelPadding": 3,
          "titlePadding": 17
        }
      },
      "y": {
        "field": "value", "type": "quantitative", "title": "value",
        "scale": {"domain": [-11.2, 18.74], "nice": false, "zero": false},
        "axis": {"values": [-10, 0, 10], "labelExpr": "'' + datum.value", "labelPadding": 6, "titlePadding": 21}
      }
    }
  }
]
}
